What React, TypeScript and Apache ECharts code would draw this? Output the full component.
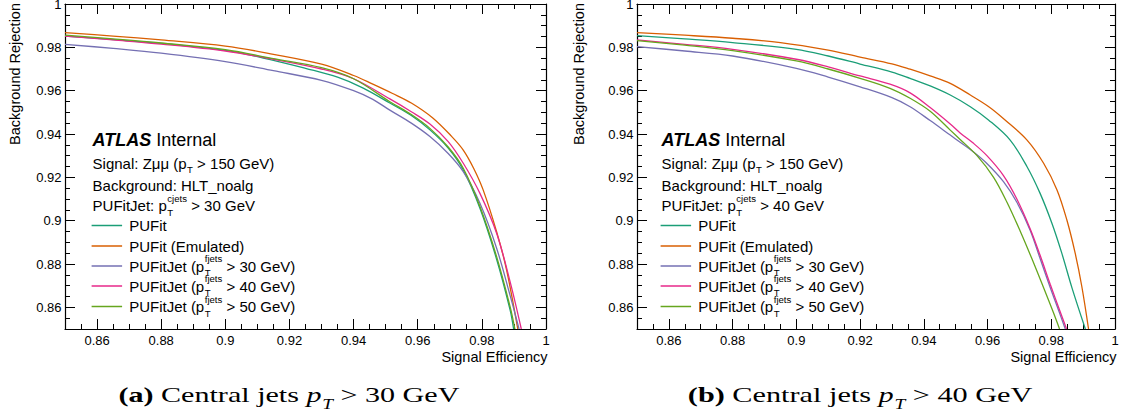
import React, { useEffect, useRef } from 'react';
import * as echarts from 'echarts';

// ---------- axes / ticks ----------
const AXIS_MIN = 0.85;
const AXIS_MAX = 1;
const MINOR_STEP = 0.005;
const xMajorTicks = [0.86, 0.88, 0.9, 0.92, 0.94, 0.96, 0.98, 1];
const yMajorTicks = [0.86, 0.88, 0.9, 0.92, 0.94, 0.96, 0.98, 1];

// ---------- series ----------
const seriesNames = [
  'PUFit',
  'PUFit (Emulated)',
  'PUFitJet (pT fjets > 30 GeV)',
  'PUFitJet (pT fjets > 40 GeV)',
  'PUFitJet (pT fjets > 50 GeV)',
];
const seriesColors = ['#1b9e77', '#d95f02', '#7570b3', '#e7298a', '#66a61e'];

// panel (a): central jets pT > 30 GeV  [signal efficiency, background rejection]
const a_PUFit = [[0.85, 0.9852], [0.865, 0.9836], [0.88, 0.9818], [0.9, 0.9786], [0.915, 0.974], [0.925, 0.9703], [0.935, 0.9662], [0.943, 0.9612], [0.9513, 0.9543], [0.958, 0.9485], [0.9638, 0.9419], [0.9695, 0.9335], [0.9742, 0.9234], [0.9794, 0.9057], [0.9846, 0.8822], [0.9888, 0.8588], [0.9899, 0.85]];
const a_PUFitEmu = [[0.85, 0.9868], [0.865, 0.9852], [0.88, 0.9834], [0.9, 0.9806], [0.915, 0.9768], [0.93, 0.9722], [0.94, 0.967], [0.946, 0.963], [0.952, 0.9588], [0.958, 0.9543], [0.9646, 0.9475], [0.9705, 0.939], [0.9742, 0.9326], [0.9775, 0.924], [0.9804, 0.9142], [0.9846, 0.8949], [0.9877, 0.8773], [0.9912, 0.85]];
const a_Jet30 = [[0.85, 0.9814], [0.865, 0.9795], [0.88, 0.9773], [0.9, 0.9734], [0.915, 0.9692], [0.93, 0.9648], [0.94, 0.96], [0.946, 0.956], [0.9513, 0.951], [0.958, 0.945], [0.9638, 0.9388], [0.9695, 0.931], [0.9742, 0.9226], [0.9794, 0.908], [0.9846, 0.8873], [0.9888, 0.8655], [0.9916, 0.85]];
const a_Jet40 = [[0.85, 0.9852], [0.865, 0.9834], [0.88, 0.9815], [0.9, 0.9783], [0.915, 0.9745], [0.93, 0.97], [0.94, 0.9655], [0.9513, 0.9562], [0.958, 0.9503], [0.9638, 0.9446], [0.9695, 0.9365], [0.9742, 0.9265], [0.9794, 0.9126], [0.9846, 0.8942], [0.9888, 0.8719], [0.9923, 0.85]];
const a_Jet50 = [[0.85, 0.9856], [0.865, 0.9839], [0.88, 0.982], [0.9, 0.9789], [0.915, 0.9748], [0.93, 0.9706], [0.94, 0.9655], [0.9513, 0.9549], [0.958, 0.949], [0.9638, 0.9426], [0.9695, 0.934], [0.9742, 0.9242], [0.9794, 0.9065], [0.9846, 0.8834], [0.9888, 0.8603], [0.9903, 0.85]];

// panel (b): central jets pT > 40 GeV
const b_PUFit = [[0.85, 0.9854], [0.865, 0.9839], [0.88, 0.9822], [0.9, 0.9791], [0.91, 0.976], [0.92, 0.9723], [0.93, 0.9686], [0.9357, 0.9657], [0.942, 0.9622], [0.9483, 0.958], [0.9546, 0.9526], [0.9603, 0.9465], [0.9671, 0.9372], [0.9724, 0.9249], [0.9765, 0.9126], [0.9802, 0.8988], [0.9833, 0.885], [0.9865, 0.869], [0.9907, 0.85]];
const b_PUFitEmu = [[0.85, 0.9868], [0.865, 0.9856], [0.88, 0.9842], [0.895, 0.9822], [0.91, 0.9787], [0.92, 0.9755], [0.93, 0.9724], [0.9357, 0.9699], [0.942, 0.9668], [0.9483, 0.9634], [0.9546, 0.958], [0.9605, 0.9525], [0.9655, 0.9465], [0.9724, 0.9372], [0.9776, 0.9265], [0.9818, 0.9142], [0.9849, 0.9003], [0.9875, 0.885], [0.9896, 0.8695], [0.9917, 0.85]];
const b_Jet30 = [[0.85, 0.9803], [0.865, 0.9783], [0.88, 0.976], [0.9, 0.9703], [0.91, 0.9663], [0.92, 0.9618], [0.93, 0.9568], [0.9357, 0.9526], [0.942, 0.9462], [0.9483, 0.9395], [0.9514, 0.9362], [0.9555, 0.9318], [0.9598, 0.9264], [0.965, 0.918], [0.9692, 0.9085], [0.9734, 0.8955], [0.9765, 0.8825], [0.9797, 0.869], [0.9822, 0.859], [0.9844, 0.85]];
const b_Jet40 = [[0.85, 0.9834], [0.865, 0.9814], [0.88, 0.9791], [0.9, 0.9745], [0.91, 0.971], [0.92, 0.9668], [0.9294, 0.963], [0.9357, 0.959], [0.942, 0.9522], [0.9483, 0.9446], [0.9514, 0.9405], [0.9555, 0.9358], [0.9598, 0.93], [0.965, 0.9208], [0.9692, 0.91], [0.9734, 0.8962], [0.9765, 0.884], [0.9797, 0.8705], [0.9828, 0.858], [0.9848, 0.85]];
const b_Jet50 = [[0.85, 0.9831], [0.865, 0.981], [0.88, 0.9785], [0.9, 0.9737], [0.91, 0.97], [0.92, 0.9657], [0.9294, 0.9611], [0.9357, 0.9565], [0.942, 0.9505], [0.9483, 0.9418], [0.9514, 0.9375], [0.9567, 0.93], [0.9619, 0.92], [0.9661, 0.9085], [0.9703, 0.895], [0.9739, 0.8825], [0.9776, 0.869], [0.9807, 0.8575], [0.9826, 0.85]];

const panelSeries = [
  [a_PUFit, a_PUFitEmu, a_Jet30, a_Jet40, a_Jet50],
  [b_PUFit, b_PUFitEmu, b_Jet30, b_Jet40, b_Jet50],
];
const panelCentralCut = ['30', '40'];
const panelTags = ['(a)', '(b)'];
const forwardCuts = ['30', '40', '50'];

// ---------- layout ----------
const SANS = '"Liberation Sans", Arial, Helvetica, sans-serif';
const SERIF = '"Liberation Serif", "Times New Roman", serif';
const GRIDS = [
  { left: 65, top: 4, width: 481, height: 325 },
  { left: 637, top: 4, width: 478, height: 325 },
];
const TEXT_X = [92.6, 661.6];
const YTITLE_X = [14.5, 578.5];
const CAPTION_SPAN = [[118.4, 459.4], [687.8, 1032.4]];

let measureCtx: any = null;
function textWidth(t: string, size: number, family: string, weight = 'normal', style = 'normal') {
  if (!measureCtx) measureCtx = document.createElement('canvas').getContext('2d');
  measureCtx.font = `${style} ${weight} ${size}px ${family}`;
  return measureCtx.measureText(t).width;
}

function txt(x: number, y: number, text: string, size: number, family: string, weight = 'normal', style = 'normal', fill = '#000') {
  return {
    type: 'text', x, y, silent: true,
    style: {
      text, fill, fontSize: size, fontFamily: family, fontWeight: weight, fontStyle: style,
      textAlign: 'left', textVerticalAlign: 'middle', align: 'left', verticalAlign: 'middle',
    },
  };
}

// pieces: {t, bold, italic} or {sub, sup, italic}
function textRun(x0: number, y: number, pieces: any[], size: number, family: string) {
  const els: any[] = [];
  let x = x0;
  for (const p of pieces) {
    const weight = p.bold ? 'bold' : 'normal';
    const style = p.italic ? 'italic' : 'normal';
    if (p.t !== undefined) {
      const lead = p.t.length - p.t.replace(/^ +/, '').length;
      if (lead) x += textWidth(' '.repeat(lead), size, family, weight, style);
      const body = p.t.replace(/^ +/, '');
      els.push(txt(x, y, body, size, family, weight, style));
      x += textWidth(body, size, family, weight, style);
    } else {
      const s = size * 0.64;
      let w = 0;
      if (p.sub) {
        els.push(txt(x + 0.5, y + size * 0.45, p.sub, s, family, weight, style));
        w = Math.max(w, textWidth(p.sub, s, family, weight, style));
      }
      if (p.sup) {
        els.push(txt(x + 0.5, y - size * 0.5, p.sup, s, family, weight, style));
        w = Math.max(w, textWidth(p.sup, s, family, weight, style));
      }
      x += w + 0.5;
    }
  }
  return { els, width: x - x0 };
}

function buildGraphics() {
  const g: any[] = [];
  for (let k = 0; k < 2; k++) {
    const X = TEXT_X[k];
    const grid = GRIDS[k];
    // axis titles
    g.push({
      type: 'text', x: YTITLE_X[k], y: 3, rotation: Math.PI / 2, silent: true,
      style: { text: 'Background Rejection', fill: '#000', fontSize: 14.5, fontFamily: SANS, textAlign: 'right', textVerticalAlign: 'middle', align: 'right', verticalAlign: 'middle' },
    });
    g.push({
      type: 'text', x: grid.left + grid.width + 1.5, y: 357, silent: true,
      style: { text: 'Signal Efficiency', fill: '#000', fontSize: 14.5, fontFamily: SANS, textAlign: 'right', textVerticalAlign: 'middle', align: 'right', verticalAlign: 'middle' },
    });
    // ATLAS label
    g.push(...textRun(X, 140, [{ t: 'ATLAS', bold: true, italic: true }, { t: ' Internal' }], 18, SANS).els);
    g.push(...textRun(X, 163, [{ t: 'Signal: Zμμ (p' }, { sub: 'T' }, { t: ' > 150 GeV)' }], 15, SANS).els);
    g.push(...textRun(X, 185, [{ t: 'Background: HLT_noalg' }], 15, SANS).els);
    g.push(...textRun(X, 205.5, [{ t: 'PUFitJet: p' }, { sub: 'T', sup: 'cjets' }, { t: ` > ${panelCentralCut[k]} GeV` }], 15, SANS).els);
    // legend
    const legendY = [225.5, 246, 266, 286, 306.5];
    for (let i = 0; i < 5; i++) {
      const y = legendY[i];
      g.push({ type: 'line', silent: true, shape: { x1: X - 1, y1: y, x2: X + 29.5, y2: y }, style: { stroke: seriesColors[i], lineWidth: 1.5 } });
      let pieces: any[];
      if (i === 0) pieces = [{ t: 'PUFit' }];
      else if (i === 1) pieces = [{ t: 'PUFit (Emulated)' }];
      else pieces = [{ t: 'PUFitJet (p' }, { sub: 'T', sup: 'fjets' }, { t: ` > ${forwardCuts[i - 2]} GeV)` }];
      g.push(...textRun(X + 36.6, y, pieces, 15, SANS).els);
    }
    // caption
    const cap = textRun(0, 395, [
      { t: panelTags[k], bold: true },
      { t: ' Central jets ' },
      { t: 'p', italic: true },
      { sub: 'T', italic: true },
      { t: ` > ${panelCentralCut[k]} GeV` },
    ], 22, SERIF);
    const [c0, c1] = CAPTION_SPAN[k];
    g.push({ type: 'group', x: c0, y: 0, scaleX: (c1 - c0) / cap.width, children: cap.els });
  }
  return g;
}

function makeAxes(gi: number, dim: 'x' | 'y') {
  const main = dim === 'x' ? 'bottom' : 'left';
  const other = dim === 'x' ? 'top' : 'right';
  const major = dim === 'x' ? xMajorTicks : yMajorTicks;
  const line = { color: '#000', width: 1.2 };
  const tickLine = { color: '#000', width: 1 };
  const base = { type: 'value', gridIndex: gi, min: AXIS_MIN, max: AXIS_MAX, splitLine: { show: false }, minorTick: { show: false } };
  return [
    {
      ...base, position: main,
      axisLine: { show: true, onZero: false, lineStyle: line },
      axisTick: { show: true, inside: true, length: 10, customValues: major, lineStyle: tickLine },
      axisLabel: { show: true, customValues: major, margin: dim === 'x' ? 5 : 3.5, color: '#000', fontSize: 13, fontFamily: SANS },
    },
    {
      ...base, position: main, interval: MINOR_STEP,
      axisLine: { show: false, onZero: false },
      axisTick: { show: true, inside: true, length: 5, lineStyle: tickLine },
      axisLabel: { show: false },
    },
    {
      ...base, position: other,
      axisLine: { show: true, onZero: false, lineStyle: line },
      axisTick: { show: true, inside: true, length: 10, customValues: major, lineStyle: tickLine },
      axisLabel: { show: false },
    },
    {
      ...base, position: other, interval: MINOR_STEP,
      axisLine: { show: false, onZero: false },
      axisTick: { show: true, inside: true, length: 5, lineStyle: tickLine },
      axisLabel: { show: false },
    },
  ];
}

export default function App() {
  const ref = useRef<HTMLDivElement>(null);
  useEffect(() => {
    if (!ref.current) return;
    const chart = echarts.init(ref.current, null, { renderer: 'svg' });
    const series: any[] = [];
    panelSeries.forEach((list, gi) => {
      list.forEach((data, i) => {
        series.push({
          type: 'line',
          name: seriesNames[i],
          xAxisIndex: gi * 4,
          yAxisIndex: gi * 4,
          data,
          showSymbol: false,
          symbol: 'none',
          smooth: 0.35,
          clip: true,
          lineStyle: { color: seriesColors[i], width: 1.3 },
          itemStyle: { color: seriesColors[i] },
          emphasis: { disabled: true },
          silent: true,
        });
      });
    });
    chart.setOption({
      animation: false,
      backgroundColor: '#ffffff',
      grid: GRIDS.map((g) => ({ ...g, containLabel: false, outerBoundsMode: 'none' })),
      xAxis: [...makeAxes(0, 'x'), ...makeAxes(1, 'x')],
      yAxis: [...makeAxes(0, 'y'), ...makeAxes(1, 'y')],
      series,
      graphic: buildGraphics(),
    });
    return () => chart.dispose();
  }, []);
  return <div ref={ref} style={{ position: 'absolute', left: 0, top: 0, width: 1124, height: 417 }} />;
}
